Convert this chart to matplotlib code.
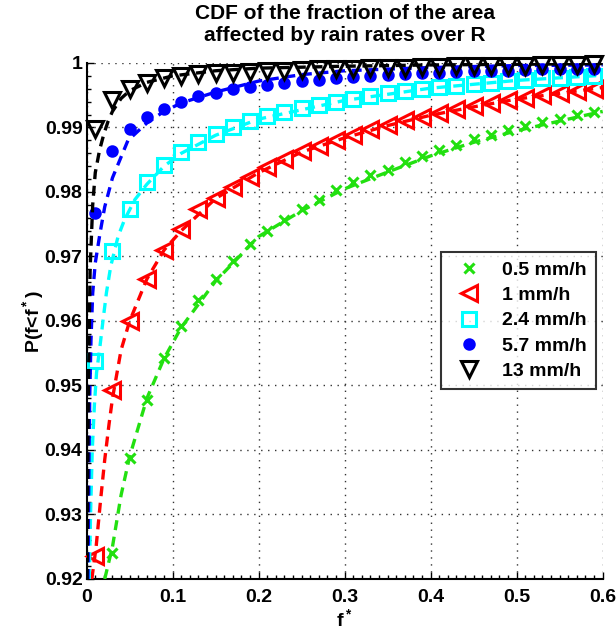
import numpy as np
import matplotlib
matplotlib.use('Agg')
import matplotlib.pyplot as plt
from matplotlib.ticker import MultipleLocator, FuncFormatter
from matplotlib.lines import Line2D

plt.rcParams['font.family'] = ['Liberation Sans', 'DejaVu Sans']
plt.rcParams['font.weight'] = 'bold'
plt.rcParams['mathtext.fontset'] = 'custom'
plt.rcParams['mathtext.rm'] = 'Liberation Sans:bold'
plt.rcParams['mathtext.bf'] = 'Liberation Sans:bold'
plt.rcParams['mathtext.default'] = 'bf'

# marker abscissae (f*)
f_pts = [0.01, 0.03, 0.05, 0.07, 0.09, 0.11, 0.13, 0.15, 0.17, 0.19,
         0.21, 0.23, 0.25, 0.27, 0.29, 0.31, 0.33, 0.35, 0.37, 0.39,
         0.41, 0.43, 0.45, 0.47, 0.49, 0.51, 0.53, 0.55, 0.57, 0.59]

p_05 = [np.nan, 0.9240, 0.9387, 0.9477, 0.9543, 0.9592, 0.9632, 0.9665, 0.9693, 0.9719,
        0.9739, 0.9756, 0.9773, 0.9788, 0.9803, 0.9815, 0.9827, 0.9834, 0.9846, 0.9856,
        0.9865, 0.9873, 0.9882, 0.9888, 0.9896, 0.9903, 0.9909, 0.9913, 0.9919, 0.9924]
p_1 = [0.9235, 0.9493, 0.9600, 0.9665, 0.9710, 0.9742, 0.9773, 0.9791, 0.9807, 0.9823,
       0.9838, 0.9851, 0.9863, 0.9871, 0.9881, 0.9889, 0.9897, 0.9904, 0.9911, 0.9917,
       0.9922, 0.9929, 0.9933, 0.9938, 0.9942, 0.9946, 0.9950, 0.9953, 0.9957, 0.9960]
p_24 = [0.9538, 0.9708, 0.9774, 0.9815, 0.9842, 0.9862, 0.9877, 0.9890, 0.9901, 0.9910,
        0.9918, 0.9924, 0.9930, 0.9935, 0.9940, 0.9944, 0.9949, 0.9953, 0.9956, 0.9960,
        0.9963, 0.9965, 0.9967, 0.9969, 0.9972, 0.9974, 0.9976, 0.9977, 0.9979, 0.9980]
p_57 = [0.9768, 0.9863, 0.9898, 0.9917, 0.9929, 0.9940, 0.9949, 0.9954, 0.9959, 0.9963,
        0.9966, 0.9969, 0.9972, 0.9974, 0.9976, 0.9979, 0.9980, 0.9982, 0.9983, 0.9984,
        0.9985, 0.9986, 0.9987, 0.9988, 0.9988, 0.9989, 0.9990, 0.9990, 0.9991, 0.9991]
p_13 = [0.9898, 0.9942, 0.9960, 0.9969, 0.9976, 0.9980, 0.9983, 0.9984, 0.9985, 0.9986,
        0.9987, 0.9988, 0.9989, 0.9990, 0.9990, 0.9991, 0.9992, 0.9993, 0.9993, 0.9994,
        0.9994, 0.9995, 0.9995, 0.9996, 0.9996, 0.9996, 0.9997, 0.9997, 0.9997, 0.9998]

# fitted curves (dashed)
fit_x_05 = [0.021, 0.03, 0.04, 0.05, 0.07, 0.09, 0.11, 0.15, 0.2, 0.25, 0.3,
            0.35, 0.4, 0.45, 0.5, 0.55, 0.6]
fit_y_05 = [0.92, 0.925, 0.933, 0.939, 0.948, 0.9542, 0.959, 0.9662, 0.9731, 0.9771, 0.9805,
            0.9831, 0.9856, 0.9877, 0.9895, 0.9910, 0.9925]
fit_x_1 = [0.006, 0.011, 0.016, 0.021, 0.026, 0.03, 0.04, 0.05, 0.07, 0.09, 0.11,
           0.15, 0.2, 0.25, 0.3, 0.35, 0.4, 0.45, 0.5, 0.55, 0.6]
fit_y_1 = [0.92, 0.925, 0.932, 0.9385, 0.944, 0.948, 0.9555, 0.960, 0.9665, 0.971, 0.974,
           0.979, 0.983, 0.9862, 0.9884, 0.9903, 0.9919, 0.9932, 0.9944, 0.9953, 0.9962]
fit_x_24 = [0.003, 0.0045, 0.0065, 0.009, 0.0115, 0.0154, 0.0192, 0.023, 0.028, 0.0365,
            0.044, 0.056, 0.07, 0.09, 0.11, 0.15, 0.2, 0.3, 0.4, 0.5, 0.6]
fit_y_24 = [0.92, 0.93, 0.94, 0.947, 0.952, 0.956, 0.9603, 0.9644, 0.9685, 0.9731,
            0.9757, 0.9788, 0.9812, 0.984, 0.986, 0.9888, 0.9913, 0.9942, 0.9961, 0.9973, 0.9981]
fit_x_57 = [0.0015, 0.0025, 0.0035, 0.005, 0.007, 0.01, 0.0155, 0.021, 0.03, 0.048,
            0.07, 0.09, 0.11, 0.15, 0.2, 0.25, 0.3, 0.4, 0.5, 0.6]
fit_y_57 = [0.92, 0.935, 0.948, 0.957, 0.9643, 0.969, 0.9736, 0.9777, 0.9822, 0.988,
            0.9907, 0.9925, 0.9938, 0.9955, 0.9972, 0.9982, 0.9988, 0.9993, 0.9996, 0.9997]
fit_x_13 = [0.0005, 0.002, 0.004, 0.007, 0.01, 0.015, 0.02, 0.025, 0.03, 0.04, 0.05,
            0.07, 0.1, 0.15, 0.2, 0.3, 0.4, 0.5, 0.6]
fit_y_13 = [0.92, 0.95, 0.968, 0.978, 0.983, 0.9865, 0.989, 0.991, 0.9925, 0.9945, 0.9957,
            0.997, 0.998, 0.9988, 0.9992, 0.9995, 0.9997, 0.9998, 0.9999]

labels = ['0.5 mm/h', '1 mm/h', '2.4 mm/h', '5.7 mm/h', '13 mm/h']
colors = ['#22e010', '#ff0000', '#00ffff', '#0000ff', '#000000']
markers = ['x', '<', 's', 'o', 'v']
msizes = [6.5, 11.5, 9.5, 6.8, 11.5]
filled = [True, False, False, True, False]

series = [p_05, p_1, p_24, p_57, p_13]
fits = [(fit_x_05, fit_y_05), (fit_x_1, fit_y_1), (fit_x_24, fit_y_24),
        (fit_x_57, fit_y_57), (fit_x_13, fit_y_13)]

fig = plt.figure(figsize=(6.16, 6.37), dpi=100)
ax = fig.add_axes([0.1407, 0.0911, 0.8377, 0.8100])

handles = []
for vals, (fx, fy), c, m, ms, fl, lab in zip(series, fits, colors, markers, msizes, filled, labels):
    ax.plot(f_pts, vals, linestyle='none', marker=m, markersize=ms,
            markeredgewidth=2.2, markeredgecolor=c,
            markerfacecolor=c if fl else 'none', zorder=3, clip_on=False)
    ax.plot(fx, fy, linestyle=(0, (3, 2)), color=c, linewidth=2.4, zorder=3)
    handles.append(Line2D([], [], linestyle='none', marker=m, markersize=ms,
                          markeredgewidth=2.2, markeredgecolor=c,
                          markerfacecolor=c if fl else 'none', label=lab))

ax.set_xlim(0, 0.6)
ax.set_ylim(0.92, 1.0)
ax.xaxis.set_major_locator(MultipleLocator(0.1))
ax.xaxis.set_minor_locator(MultipleLocator(0.01))
ax.yaxis.set_major_locator(MultipleLocator(0.01))
ax.yaxis.set_minor_locator(MultipleLocator(0.002))
fmt = FuncFormatter(lambda v, p: '%g' % round(v, 3))
ax.xaxis.set_major_formatter(fmt)
ax.yaxis.set_major_formatter(fmt)
ax.tick_params(which='both', direction='in', labelsize=14, width=1)
ax.tick_params(which='major', length=5)
ax.tick_params(which='minor', length=3)
ax.tick_params(axis='x', pad=7)
ax.tick_params(axis='y', pad=3)
ax.grid(True, which='major', linestyle=(0, (1, 4)), color='#333333', linewidth=1)
ax.spines['top'].set_visible(False)
ax.spines['right'].set_visible(False)
ax.spines['left'].set_linewidth(1.5)
ax.spines['bottom'].set_linewidth(1.5)

ax.set_xlabel('f$^*$', fontsize=14, fontweight='bold', labelpad=2)
ax.set_ylabel('P(f<f$^*$)', fontsize=14, fontweight='bold', labelpad=-1)
ax.set_title('CDF of the fraction of the area\naffected by rain rates over R',
             fontsize=15, fontweight='bold', pad=16, linespacing=1.2)

leg = ax.legend(handles=handles, loc='upper right', bbox_to_anchor=(0.9864, 0.6331),
                borderaxespad=0, fontsize=14, frameon=True, fancybox=False,
                handlelength=2.0, handletextpad=0.7, labelspacing=0.4,
                borderpad=0.45)
leg.get_frame().set_edgecolor('black')
leg.get_frame().set_linewidth(1.5)

fig.savefig('out.png', dpi=100)
